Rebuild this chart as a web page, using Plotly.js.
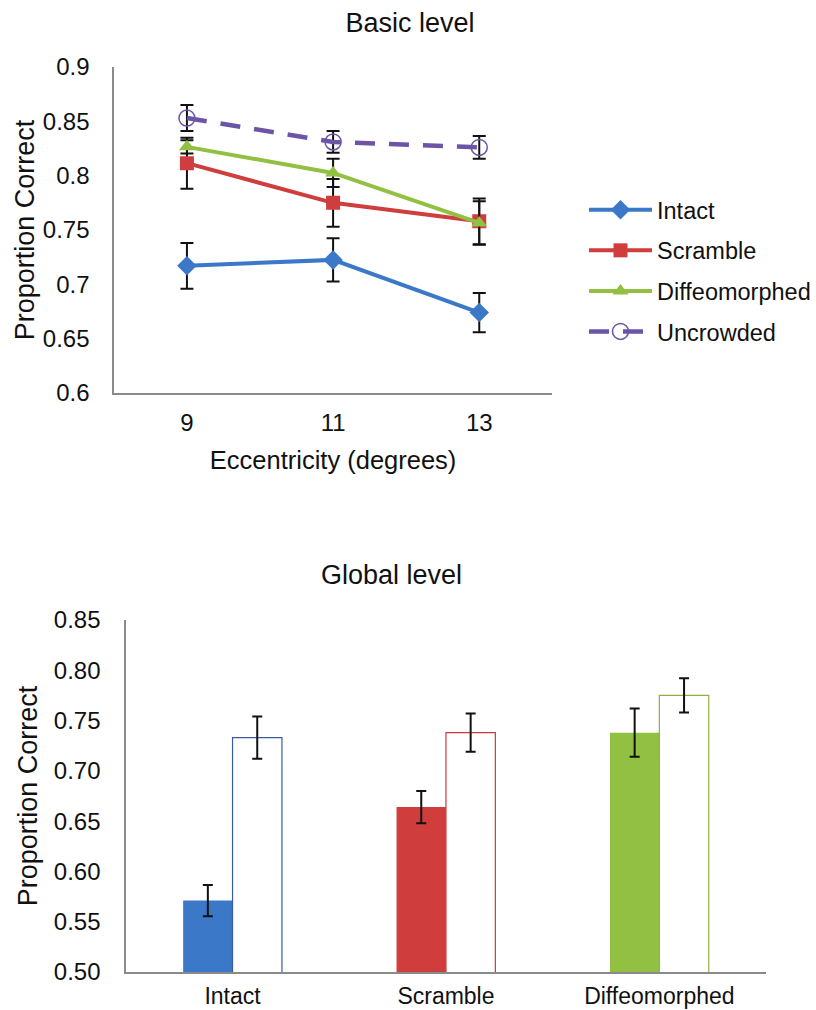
<!DOCTYPE html>
<html>
<head>
<meta charset="utf-8">
<script src="https://cdn.plot.ly/plotly-3.0.1.min.js"></script>
<style>
  html, body { margin: 0; padding: 0; background: #fff; }
  #chart { width: 816px; height: 1010px; }
</style>
</head>
<body>
<div id="chart"></div>
<script>
// ---- Data: Basic level (line chart) ----
const eccentricity = [9, 11, 13];
const intactBasic = [0.717, 0.7225, 0.674];
const intactBasicErr = [0.021, 0.020, 0.018];
const scrambleBasic = [0.8115, 0.775, 0.758];
const scrambleBasicErr = [0.0235, 0.022, 0.021];
const diffeoBasic = [0.8265, 0.8025, 0.7565];
const diffeoBasicErr = [0.006, 0.013, 0.020];
const uncrowdedBasic = [0.853, 0.831, 0.826];
const uncrowdedBasicErr = [0.012, 0.010, 0.0105];

// ---- Data: Global level (bar chart) ----
const globalCategories = ["Intact", "Scramble", "Diffeomorphed"];
const crowdedGlobal = [0.571, 0.664, 0.738];
const crowdedGlobalErr = [0.0155, 0.016, 0.024];
const uncrowdedGlobal = [0.733, 0.738, 0.775];
const uncrowdedGlobalErr = [0.021, 0.019, 0.017];

// ---- Styles ----
const FONT = "Liberation Sans, Arial, sans-serif";
const BLUE = "#3b78c8", RED = "#cf3d3d", GREEN = "#92c043", PURPLE = "#6c54a6";
const barColors = [BLUE, RED, GREEN];
const barOutline = ["#3a5aa8", "#c83a3a", "#8fb040"];

function err(arr, w) {
  return { type: "data", array: arr, visible: true, color: "#111", thickness: 2, width: w };
}

const traces = [
  { x: eccentricity, y: intactBasic, error_y: err(intactBasicErr, 6.5), name: "Intact",
    type: "scatter", mode: "lines+markers", xaxis: "x", yaxis: "y", legendgroup: "a",
    line: { color: BLUE, width: 4 }, marker: { symbol: "diamond", size: 15, color: BLUE } },
  { x: eccentricity, y: scrambleBasic, error_y: err(scrambleBasicErr, 6.5), name: "Scramble",
    type: "scatter", mode: "lines+markers", xaxis: "x", yaxis: "y", legendgroup: "b",
    line: { color: RED, width: 4 }, marker: { symbol: "square", size: 14, color: RED } },
  { x: eccentricity, y: diffeoBasic, error_y: err(diffeoBasicErr, 6.5), name: "Diffeomorphed",
    type: "scatter", mode: "lines+markers", xaxis: "x", yaxis: "y", legendgroup: "c",
    line: { color: GREEN, width: 4 }, marker: { symbol: "triangle-up", size: 14, color: GREEN } },
  { x: eccentricity, y: uncrowdedBasic, error_y: err(uncrowdedBasicErr, 6.5), name: "Uncrowded",
    type: "scatter", mode: "lines+markers", xaxis: "x", yaxis: "y", legendgroup: "d",
    line: { color: PURPLE, width: 4.5, dash: "20px,14px" },
    marker: { symbol: "circle-open", size: 16, color: PURPLE, line: { width: 1.5, color: PURPLE } } },
  { x: globalCategories, y: crowdedGlobal, error_y: err(crowdedGlobalErr, 5), name: "Crowded",
    type: "bar", xaxis: "x2", yaxis: "y2", showlegend: false,
    marker: { color: barColors, line: { width: 0 } } },
  { x: globalCategories, y: uncrowdedGlobal, error_y: err(uncrowdedGlobalErr, 5), name: "Uncrowded",
    type: "bar", xaxis: "x2", yaxis: "y2", showlegend: false,
    marker: { color: "#ffffff", line: { width: 1.2, color: barOutline } } }
];

const W = 816, H = 1010;
const axisCommon = {
  showgrid: false, zeroline: false, showline: true, linecolor: "#8a8a8a", linewidth: 1.5,
  ticks: "", tickfont: { family: FONT, size: 24, color: "#111" }, fixedrange: true
};

const layout = {
  width: W, height: H,
  margin: { l: 0, r: 0, t: 0, b: 0 },
  paper_bgcolor: "#fff", plot_bgcolor: "#fff",
  font: { family: FONT, size: 24, color: "#111" },
  title: { text: "Basic level", font: { family: FONT, size: 27, color: "#111" },
           x: 410 / W, xanchor: "center", y: 1 - 23 / H, yanchor: "middle" },
  barmode: "group", bargap: 0.537, bargroupgap: 0,
  showlegend: true,
  legend: { x: 585 / W, xanchor: "left", y: 1 - 188 / H, yanchor: "top",
            font: { family: FONT, size: 23.5, color: "#111" }, traceorder: "grouped",
            tracegroupgap: 7, itemwidth: 63, bgcolor: "rgba(0,0,0,0)" },
  xaxis: Object.assign({}, axisCommon, {
    domain: [114 / W, 553 / W], range: [8, 14], tickvals: eccentricity, ticktext: eccentricity.map(String),
    ticklabelstandoff: 8, anchor: "y",
    title: { text: "Eccentricity (degrees)", font: { family: FONT, size: 25.5, color: "#111" }, standoff: 16 }
  }),
  yaxis: Object.assign({}, axisCommon, {
    domain: [1 - 393 / H, 1 - 67 / H], range: [0.6, 0.9], dtick: 0.05, tick0: 0.6,
    ticklabelstandoff: 18, anchor: "x",
    title: { text: "Proportion Correct", font: { family: FONT, size: 27, color: "#111" }, standoff: 0 }
  }),
  xaxis2: Object.assign({}, axisCommon, {
    domain: [126 / W, 767 / W], type: "category", range: [-0.5, 2.5],
    ticklabelstandoff: 3, anchor: "y2", tickfont: { family: FONT, size: 23, color: "#111" }
  }),
  yaxis2: Object.assign({}, axisCommon, {
    domain: [1 - 972 / H, 1 - 620 / H], range: [0.5, 0.85], dtick: 0.05, tick0: 0.5,
    tickformat: ".2f", ticklabelstandoff: 19, anchor: "x2",
    title: { text: "Proportion Correct", font: { family: FONT, size: 27, color: "#111" }, standoff: 8 }
  }),
  annotations: [
    { text: "Global level", xref: "paper", yref: "paper", x: 392 / W, y: 1 - 575 / H,
      xanchor: "center", yanchor: "middle", showarrow: false,
      font: { family: FONT, size: 27, color: "#111" } }
  ]
};

Plotly.newPlot("chart", traces, layout, { staticPlot: true, displayModeBar: false });
</script>
</body>
</html>
